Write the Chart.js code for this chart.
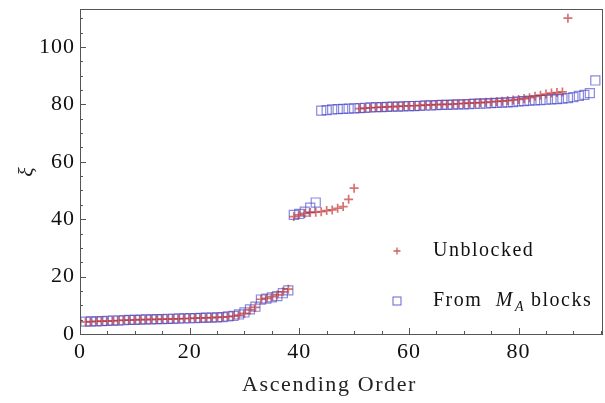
<!DOCTYPE html>
<html>
<head>
<meta charset="utf-8">
<script src="https://cdn.jsdelivr.net/npm/chart.js@4.4.0/dist/chart.umd.min.js"></script>
<style>
  html, body { margin: 0; padding: 0; background: #fff; }
  #wrap { width: 605px; height: 403px; }
</style>
</head>
<body>
<div id="wrap"><canvas id="scatterChart" width="605" height="403"></canvas></div>
<script>
// values, in ascending order (x = rank 1, 2, 3 ...)
const unblockedVals = [
  4.2, 4.3, 4.4, 4.5, 4.5, 4.6, 4.7, 4.8, 4.8, 4.9, 5.0, 5.0, 5.1, 5.1, 5.2, 5.2, 5.3, 5.3, 5.4, 5.4,
  5.5, 5.6, 5.6, 5.7, 5.8, 5.9, 6.0, 6.2, 6.6, 7.2, 8.4, 9.3, 12.1, 12.4, 13.0, 13.6, 14.7, 15.6,
  40.9, 41.5, 42.0, 42.3, 42.4, 42.6, 43.0, 43.2, 43.8, 44.4, 46.9, 50.8,
  78.5, 78.7, 78.8, 78.9, 79.0, 79.1, 79.2, 79.3, 79.4, 79.5, 79.5, 79.6, 79.7, 79.8, 79.9, 80.0, 80.0, 80.1, 80.2, 80.3,
  80.4, 80.5, 80.6, 80.7, 80.8, 81.0, 81.1, 81.3, 81.5, 81.7, 82.0, 82.3, 82.8, 83.2, 83.6, 83.9, 84.1, 84.3,
  110.0
];
const blockVals = [
  4.3, 4.4, 4.4, 4.5, 4.6, 4.7, 4.7, 4.8, 4.9, 4.9, 5.0, 5.1, 5.1, 5.2, 5.2, 5.3, 5.3, 5.4, 5.4, 5.5,
  5.5, 5.6, 5.7, 5.7, 5.8, 5.9, 6.1, 6.3, 6.8, 7.5, 8.6, 9.5, 12.0, 12.3, 12.8, 13.2, 14.2, 15.2,
  41.5, 41.8, 42.6, 44.0, 45.8,
  77.8, 78.0, 78.2, 78.3, 78.4, 78.5, 78.6, 78.7, 78.8, 78.9, 79.0, 79.0, 79.1, 79.2, 79.2, 79.3, 79.4, 79.4, 79.5, 79.6,
  79.6, 79.7, 79.8, 79.8, 79.9, 80.0, 80.0, 80.1, 80.2, 80.2, 80.3, 80.4, 80.5, 80.6, 80.7, 80.8, 81.0, 81.1, 81.3, 81.4,
  81.5, 81.6, 81.7, 81.8, 82.0, 82.2, 82.5, 82.9, 83.3, 83.9,
  88.3
];
const xTicks = [0, 20, 40, 60, 80];
const yTicks = [0, 20, 40, 60, 80, 100];
const seriesNames = ['Unblocked', 'From M_A blocks'];
const xTitle = 'Ascending Order';

const serif = '"Liberation Serif", "DejaVu Serif", serif';
const frameColor = '#555';

function toPoints(vals) {
  return vals.map((v, i) => ({ x: i + 1, y: v }));
}

// frame + inward ticks, Mathematica style
const framePlugin = {
  id: 'frame',
  beforeDraw(chart) {
    chart.ctx.letterSpacing = '1px';
  },
  afterDatasetsDraw(chart) {
    const { ctx, chartArea: a, scales } = chart;
    ctx.save();
    ctx.strokeStyle = frameColor;
    ctx.lineWidth = 1;
    ctx.strokeRect(a.left + 0.5, a.top + 0.5, a.right - a.left - 1, a.bottom - a.top);
    ctx.beginPath();
    for (let v = 0; v <= scales.x.max; v += 5) {
      const px = Math.round(scales.x.getPixelForValue(v)) + 0.5;
      const len = v % 20 === 0 ? 6 : 3;
      ctx.moveTo(px, a.bottom);
      ctx.lineTo(px, a.bottom - len);
    }
    for (let v = 0; v <= scales.y.max; v += 5) {
      const py = Math.round(scales.y.getPixelForValue(v)) + 0.5;
      const len = v % 20 === 0 ? 6 : 3;
      ctx.moveTo(a.left, py);
      ctx.lineTo(a.left + len, py);
    }
    ctx.stroke();

    // x axis label, sits a bit left of the plot centre like the original
    ctx.letterSpacing = '1.6px';
    ctx.fillStyle = '#222';
    ctx.font = '22px ' + serif;
    ctx.textAlign = 'center';
    ctx.textBaseline = 'middle';
    ctx.fillText(xTitle, (a.left + a.right) / 2 - 12, a.bottom + 51);
    ctx.restore();
  }
};

// legend drawn by hand because of the subscript in M_A
const legendPlugin = {
  id: 'subLegend',
  afterDraw(chart) {
    const { ctx, chartArea: a } = chart;
    const mx = a.left + 317, tx = a.left + 353;
    const y1 = a.top + 242, y2 = a.top + 292;
    ctx.save();
    ctx.letterSpacing = '1.5px';
    ctx.textBaseline = 'middle';
    ctx.fillStyle = '#111';

    ctx.strokeStyle = 'rgba(190,40,40,0.75)';
    ctx.lineWidth = 1.3;
    ctx.beginPath();
    ctx.moveTo(mx - 3.5, y1); ctx.lineTo(mx + 3.5, y1);
    ctx.moveTo(mx, y1 - 3.5); ctx.lineTo(mx, y1 + 3.5);
    ctx.stroke();
    ctx.font = '20px ' + serif;
    ctx.fillText(seriesNames[0], tx, y1);

    ctx.strokeStyle = 'rgba(60,60,200,0.8)';
    ctx.lineWidth = 1;
    ctx.strokeRect(mx - 4, y2 - 4, 8, 8);
    let x = tx;
    ctx.font = '20px ' + serif;
    ctx.fillText('From ', x, y2);
    x += ctx.measureText('From ').width + 7;
    ctx.font = 'italic 20px ' + serif;
    ctx.fillText('M', x, y2);
    x += ctx.measureText('M').width + 1;
    ctx.font = 'italic 14px ' + serif;
    ctx.fillText('A', x, y2 + 6);
    x += ctx.measureText('A').width + 6;
    ctx.font = '20px ' + serif;
    ctx.fillText('blocks', x, y2);
    ctx.restore();
  }
};

const ctxScatter = document.getElementById('scatterChart').getContext('2d');
const scatterChart = new Chart(ctxScatter, {
  type: 'scatter',
  data: {
    datasets: [{
      label: seriesNames[0],
      data: toPoints(unblockedVals),
      pointStyle: 'cross',
      radius: 4.5,
      borderColor: 'rgba(190,40,40,0.65)',
      borderWidth: 1.7,
      backgroundColor: 'rgba(0,0,0,0)'
    }, {
      label: seriesNames[1],
      data: toPoints(blockVals),
      pointStyle: 'rect',
      radius: 6.4,
      borderColor: 'rgba(60,60,200,0.6)',
      borderWidth: 1.2,
      backgroundColor: 'rgba(0,0,0,0)'
    }]
  },
  options: {
    responsive: false,
    animation: false,
    devicePixelRatio: 1,
    layout: { autoPadding: false, padding: { top: 9, right: 2, left: 0, bottom: 0 } },
    plugins: {
      legend: { display: false },
      tooltip: { enabled: false }
    },
    scales: {
      x: {
        type: 'linear',
        min: 0,
        max: 95.4,
        afterFit: s => { s.height = 69; s.paddingLeft = 0; s.paddingRight = 0; },
        afterBuildTicks: s => { s.ticks = xTicks.map(v => ({ value: v })); },
        grid: { display: false, drawTicks: false },
        border: { display: false },
        ticks: {
          padding: 5,
          color: '#111',
          font: { family: serif, size: 22 },
          maxRotation: 0
        },
        title: { display: false }
      },
      y: {
        type: 'linear',
        min: 0,
        max: 113.2,
        afterFit: s => { s.width = 80; s.paddingTop = 0; s.paddingBottom = 0; },
        afterBuildTicks: s => { s.ticks = yTicks.map(v => ({ value: v })); },
        grid: { display: false, drawTicks: false },
        border: { display: false },
        ticks: {
          padding: 5,
          color: '#111',
          font: { family: serif, size: 22 }
        },
        title: {
          display: true,
          text: 'ξ',
          color: '#222',
          font: { family: serif, size: 22, style: 'italic' },
          padding: { top: 14, bottom: 0 }
        }
      }
    }
  },
  plugins: [framePlugin, legendPlugin]
});
</script>
</body>
</html>
